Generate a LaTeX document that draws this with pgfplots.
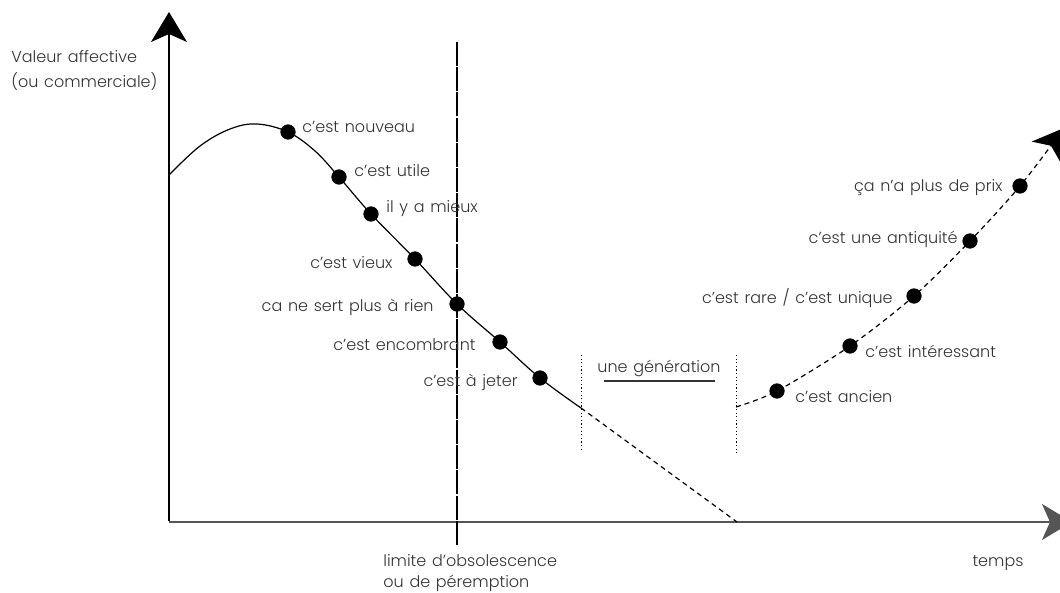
\documentclass[border=0pt]{standalone}
\usepackage{pgfplots}
\pgfplotsset{compat=1.18}
\usetikzlibrary{arrows.meta}
\usepackage{fontspec}
\setmainfont{Poppins}[UprightFont={* Light}, WordSpace=1.3]
\definecolor{txt}{HTML}{333333}
\definecolor{axgray}{HTML}{555555}
\tikzset{lab/.style={font=\fontsize{8pt}{9.5pt}\selectfont, text=txt, inner sep=0pt}}
\begin{document}
\begin{tikzpicture}
\useasboundingbox (0,0) rectangle (530pt,296.5pt);
\begin{axis}[
  at={(0,0)}, anchor=south west,
  scale only axis, width=530pt, height=296.5pt,
  xmin=0, xmax=1060, ymin=0, ymax=593,
  y dir=reverse,
  hide axis, clip=false,
]
% axes
\addplot[black, line width=0.7pt, -{Stealth[length=15pt,width=18pt,inset=4pt]}] coordinates {(169,521) (169,12)};
\addplot[axgray, line width=0.8pt, -{Stealth[length=15pt,width=18pt,inset=4pt]}] coordinates {(169,522) (1072,522)};
% limite d'obsolescence
\addplot[black, line width=0.6pt, dash pattern=on 12pt off 0.6pt] coordinates {(457,42) (457,545)};
% une generation markers
\addplot[black, line width=0.5pt, dash pattern=on 0.6pt off 1.2pt] coordinates {(581,355) (581,452)};
\addplot[black, line width=0.5pt, dash pattern=on 0.6pt off 1.2pt] coordinates {(736,355) (736,453)};
\addplot[txt, line width=0.6pt] coordinates {(604,381) (715,381)};
% courbe principale
\addplot[black, line width=0.6pt, smooth, tension=0.6] coordinates {
 (169,175) (200,146) (230,129) (257,124) (288,132) (315,151) (339,177)
 (371,214) (415,259) (457,304) (500,342) (540,378) (581,408)};
\addplot[black, line width=0.6pt, dash pattern=on 2.5pt off 2pt] coordinates {(581,408) (737,522)};
% courbe de revalorisation
\addplot[black, line width=0.6pt, dash pattern=on 2.5pt off 2pt, smooth, tension=0.5,
  -{Stealth[length=15pt,width=18pt,inset=4pt]}] coordinates {
 (736,407) (777,391) (850,346) (914,296) (970,241) (1020,186) (1064,128)};
% points
\addplot[only marks, mark=*, mark size=3.6pt, black] coordinates {
 (288,132) (339,177) (371,214) (415,259) (457,304) (500,342) (540,378)
 (777,391) (850,346) (914,296) (970,241) (1020,186)};
% etiquettes
\node[lab, anchor=west] at (axis cs:11,57) {Valeur affective};
\node[lab, anchor=west] at (axis cs:11,82) {(ou commerciale)};
\node[lab, anchor=west] at (axis cs:302,127) {c’est nouveau};
\node[lab, anchor=west] at (axis cs:354,171) {c’est utile};
\node[lab, anchor=west] at (axis cs:386,209) {il y a mieux};
\node[lab, anchor=east] at (axis cs:393,263) {c’est vieux};
\node[lab, anchor=east] at (axis cs:434,307) {ca ne sert plus à rien};
\node[lab, anchor=east] at (axis cs:476,345) {c’est encombrant};
\node[lab, anchor=east] at (axis cs:518,382) {c’est à jeter};
\node[lab] at (axis cs:659,368) {une génération};
\node[lab, anchor=west] at (axis cs:795,397) {c’est ancien};
\node[lab, anchor=west] at (axis cs:865,351) {c’est intéressant};
\node[lab, anchor=east] at (axis cs:893,298) {c’est rare / c’est unique};
\node[lab, anchor=east] at (axis cs:958,239) {c’est une antiquité};
\node[lab, anchor=east] at (axis cs:1003,188) {ça n’a plus de prix};
\node[lab, anchor=west] at (axis cs:383,561) {limite d’obsolescence};
\node[lab, anchor=west] at (axis cs:383,583) {ou de péremption};
\node[lab] at (axis cs:998,563) {temps};
\end{axis}
\end{tikzpicture}
\end{document}
